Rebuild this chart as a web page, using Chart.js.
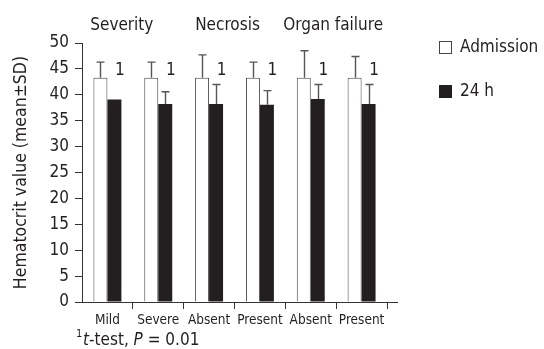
<!DOCTYPE html>
<html>
<head>
<meta charset="utf-8">
<script src="https://cdn.jsdelivr.net/npm/chart.js@4/dist/chart.umd.min.js"></script>
<style>
body { margin: 0; background: #fff; }
#wrap { width: 544px; height: 349px; position: relative; }
</style>
</head>
<body>
<div id="wrap"><canvas id="hctChart"></canvas></div>
<script>
var categories = ["Mild", "Severe", "Absent", "Present", "Absent", "Present"];
var groupNames = ["Severity", "Necrosis", "Organ failure"];
var admission = [43.3, 43.3, 43.3, 43.3, 43.3, 43.3];
var admissionSD = [3.0, 3.0, 4.4, 3.0, 5.2, 4.1];
var after24h = [39.1, 38.2, 38.2, 38.1, 39.2, 38.2];
var after24hSD = [null, 2.4, 3.8, 2.7, 2.8, 3.8];
var yTicks = [0, 5, 10, 15, 20, 25, 30, 35, 40, 45, 50];

var FONT = "'DejaVu Sans Condensed', 'DejaVu Sans', sans-serif";
var INK = "#231f20";

// error bars, "1" marks, group headings, legend and footnote
var extras = {
  id: "extras",
  afterDatasetsDraw: function (chart) {
    var ctx = chart.ctx;
    var y = chart.scales.y;
    var x = chart.scales.x;
    var area = chart.chartArea;
    var sds = [admissionSD, after24hSD];
    var vals = [admission, after24h];

    ctx.save();
    // x axis line runs a bit past the ticks
    ctx.strokeStyle = "#333";
    ctx.lineWidth = 1;
    ctx.beginPath();
    ctx.moveTo(area.left - 7, Math.round(area.bottom) + 0.5);
    ctx.lineTo(area.right + 11, Math.round(area.bottom) + 0.5);
    ctx.stroke();

    // upward error bars
    ctx.strokeStyle = "#555";
    ctx.lineWidth = 1.4;
    for (var d = 0; d < 2; d++) {
      var meta = chart.getDatasetMeta(d);
      meta.data.forEach(function (bar, i) {
        var sd = sds[d][i];
        if (sd == null) return;
        var top = y.getPixelForValue(vals[d][i] + sd);
        var base = y.getPixelForValue(vals[d][i]);
        var cx = Math.round(bar.x) + 0.5;
        ctx.beginPath();
        ctx.moveTo(cx, base);
        ctx.lineTo(cx, top);
        ctx.moveTo(cx - 4, top);
        ctx.lineTo(cx + 4, top);
        ctx.stroke();
      });
    }

    // significance marks
    ctx.fillStyle = INK;
    ctx.font = "17px " + FONT;
    ctx.textAlign = "center";
    ctx.textBaseline = "middle";
    categories.forEach(function (c, i) {
      ctx.fillText("1", x.getPixelForValue(i) + 12.5, y.getPixelForValue(44.7));
    });

    // group headings
    groupNames.forEach(function (g, k) {
      var mid = (x.getPixelForValue(2 * k) + x.getPixelForValue(2 * k + 1)) / 2;
      ctx.fillText(g, mid - 11 + k * 4, 26);
    });

    // legend
    ctx.textAlign = "left";
    ctx.lineWidth = 1;
    ctx.strokeStyle = "#444";
    ctx.fillStyle = "#fff";
    ctx.fillRect(439.5, 41.5, 12, 12);
    ctx.strokeRect(439.5, 41.5, 12, 12);
    ctx.fillStyle = INK;
    ctx.fillRect(439, 85, 13, 13);
    ctx.fillText("Admission", 460, 48);
    ctx.fillText("24 h", 460, 92);

    // footnote
    ctx.textBaseline = "alphabetic";
    ctx.font = "11px " + FONT;
    ctx.fillText("1", 76, 337);
    var fx = 83;
    var parts = [["t", true], ["-test, ", false], ["P", true], [" = 0.01", false]];
    parts.forEach(function (p) {
      ctx.font = (p[1] ? "italic " : "") + "17px " + FONT;
      ctx.fillText(p[0], fx, 345);
      fx += ctx.measureText(p[0]).width;
    });
    ctx.restore();
  }
};

var hctCanvas = document.getElementById("hctChart");

var dataAdmission = {
  label: "Admission",
  data: admission,
  backgroundColor: "#ffffff",
  borderColor: "#444",
  borderWidth: 1,
  borderSkipped: "bottom",
  categoryPercentage: 0.55,
  barPercentage: 1.0
};

var data24h = {
  label: "24 h",
  data: after24h,
  backgroundColor: INK,
  borderColor: INK,
  borderWidth: 0,
  categoryPercentage: 0.55,
  barPercentage: 1.0
};

var hctChart = new Chart(hctCanvas, {
  type: "bar",
  data: { labels: categories, datasets: [dataAdmission, data24h] },
  options: {
    responsive: true,
    maintainAspectRatio: false,
    animation: false,
    layout: { padding: { top: 43, right: 157, left: 0, bottom: 0 } },
    plugins: { legend: { display: false }, tooltip: { enabled: false } },
    scales: {
      x: {
        grid: {
          offset: true,
          drawOnChartArea: false,
          tickLength: 7,
          color: function (c) { return c.index === 0 ? "rgba(0,0,0,0)" : "#333"; }
        },
        border: { display: false },
        ticks: { color: INK, font: { family: FONT, size: 13.5 }, padding: 3, maxRotation: 0, autoSkip: false },
        afterFit: function (s) { s.height = 47; }
      },
      y: {
        min: 0,
        max: 50,
        afterBuildTicks: function (s) { s.ticks = yTicks.map(function (v) { return { value: v }; }); },
        grid: { drawOnChartArea: false, tickLength: 7, color: "#333" },
        border: { color: "#333", width: 1 },
        ticks: { color: INK, font: { family: FONT, size: 17 }, padding: 6 },
        title: {
          display: true,
          text: "Hematocrit value (mean\u00b1SD)",
          color: INK,
          font: { family: FONT, size: 17.5 },
          padding: { top: 11, bottom: 0 }
        },
        afterFit: function (s) { s.width = 82; }
      }
    }
  },
  plugins: [extras]
});
</script>
</body>
</html>
